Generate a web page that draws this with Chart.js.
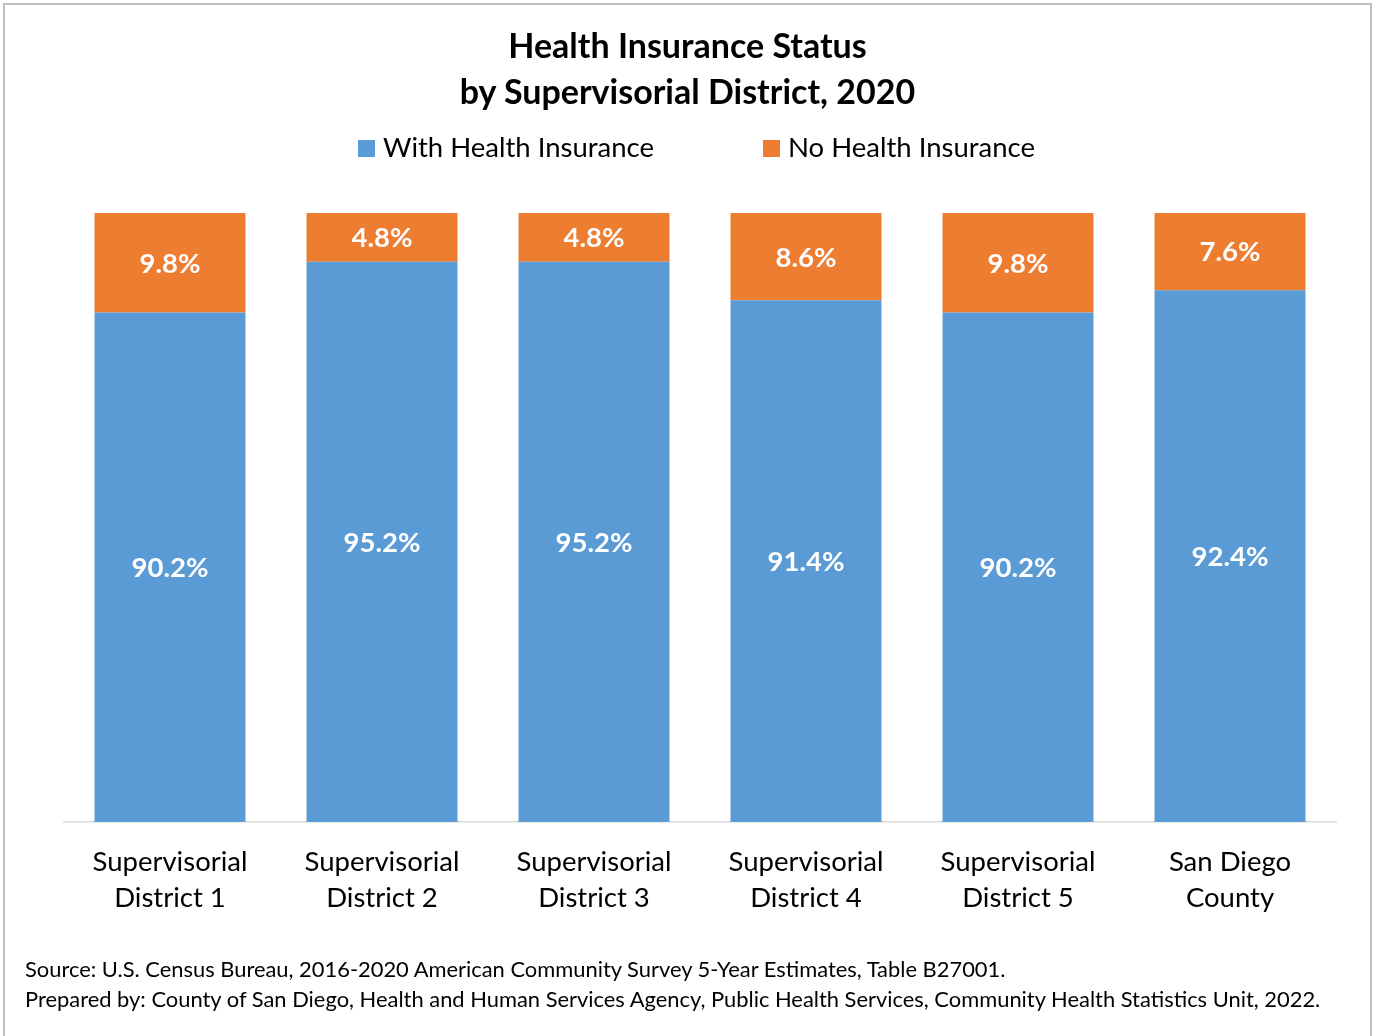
<!DOCTYPE html>
<html>
<head>
<meta charset="utf-8">
<script src="https://cdn.jsdelivr.net/npm/chart.js@4.4.1/dist/chart.umd.min.js"></script>
<style>
  html, body { margin: 0; padding: 0; background: #fff; }
  body { width: 1375px; height: 1036px; position: relative; overflow: hidden; font-family: Lato, "Open Sans", sans-serif; color: #000; }
  #frame { position: absolute; left: 3px; top: 3px; width: 1365px; height: 1100px; border: 2px solid #bfbfbf; box-sizing: content-box; }
  #chart { position: absolute; left: 0; top: 0; }
  .title { position: absolute; left: 0; width: 1375px; text-align: center; font-weight: bold; font-size: 34px; line-height: 46px; }
  .legend { position: absolute; top: 128px; height: 38px; line-height: 38px; font-size: 27.5px; white-space: nowrap; }
  .legend .box { display: inline-block; width: 17px; height: 17px; vertical-align: middle; margin-right: 8px; position: relative; top: -2px; }
  .src { position: absolute; left: 25px; font-size: 21.9px; white-space: nowrap; line-height: 30px; }
</style>
</head>
<body>
<div id="frame"></div>
<canvas id="chart" width="1375" height="1036"></canvas>
<div class="title" style="top:22px">Health Insurance Status</div>
<div class="title" style="top:68px">by Supervisorial District, 2020</div>
<div class="legend" id="lg1" style="left:358px"><span class="box" style="background:#5B9BD5"></span>With Health Insurance</div>
<div class="legend" id="lg2" style="left:763px"><span class="box" style="background:#ED7D31"></span>No Health Insurance</div>
<div class="src" style="top:954px">Source: U.S. Census Bureau, 2016-2020 American Community Survey 5-Year Estimates, Table B27001.</div>
<div class="src" style="top:984px">Prepared by: County of San Diego, Health and Human Services Agency, Public Health Services, Community Health Statistics Unit, 2022.</div>
<script>
const categories = [
  ["Supervisorial", "District 1"],
  ["Supervisorial", "District 2"],
  ["Supervisorial", "District 3"],
  ["Supervisorial", "District 4"],
  ["Supervisorial", "District 5"],
  ["San Diego", "County"]
];
const withInsurance = [90.2, 95.2, 95.2, 91.4, 90.2, 92.4];
const noInsurance = [9.8, 4.8, 4.8, 8.6, 9.8, 7.6];
const seriesNames = ["With Health Insurance", "No Health Insurance"];

const labelPlugin = {
  id: 'segLabels',
  afterDatasetsDraw(chart) {
    const ctx = chart.ctx;
    const area = chart.chartArea;
    ctx.save();
    ctx.fillStyle = '#ffffff';
    ctx.font = 'bold 27.5px Lato, "Open Sans", sans-serif';
    ctx.textAlign = 'center';
    ctx.textBaseline = 'middle';
    chart.data.datasets.forEach((ds, di) => {
      const meta = chart.getDatasetMeta(di);
      meta.data.forEach((el, i) => {
        const top = Math.max(Math.min(el.y, el.base), area.top);
        const bot = Math.min(Math.max(el.y, el.base), area.bottom);
        ctx.fillText(ds.data[i].toFixed(1) + '%', el.x, (top + bot) / 2 + 1);
      });
    });
    ctx.restore();
  }
};

new Chart(document.getElementById('chart'), {
  type: 'bar',
  data: {
    labels: categories,
    datasets: [
      { label: seriesNames[0], data: withInsurance, backgroundColor: '#5B9BD5', borderWidth: 0 },
      { label: seriesNames[1], data: noInsurance, backgroundColor: '#ED7D31', borderWidth: 0 }
    ]
  },
  options: {
    responsive: false,
    animation: false,
    devicePixelRatio: 1,
    layout: { padding: { top: 213, left: 64, right: 39, bottom: 98 } },
    plugins: { legend: { display: false }, title: { display: false }, tooltip: { enabled: false } },
    datasets: { bar: { categoryPercentage: 1, barPercentage: 0.712 } },
    scales: {
      x: {
        stacked: true,
        grid: { display: false, drawTicks: false },
        border: { display: true, color: '#d9d9d9', width: 1.5 },
        ticks: { color: '#000', font: { family: 'Lato, "Open Sans", sans-serif', size: 27.5, lineHeight: 1.31 }, padding: 22, maxRotation: 0, autoSkip: false }
      },
      y: { stacked: true, display: false, min: 40, max: 100 }
    }
  },
  plugins: [labelPlugin]
});
</script>
</body>
</html>
